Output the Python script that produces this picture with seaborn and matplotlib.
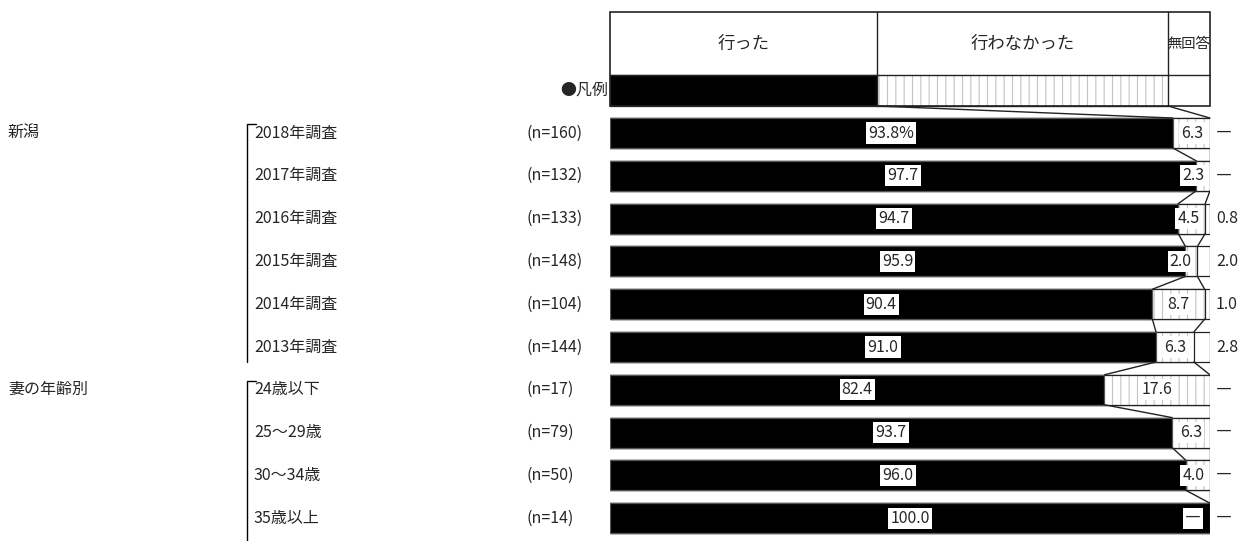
import numpy as np
import pandas as pd
import matplotlib
matplotlib.use("Agg")
import matplotlib.pyplot as plt
import matplotlib.transforms as mtransforms
from matplotlib.patches import Rectangle
import seaborn as sns

# -------------------------
# Data
# -------------------------
groups = ["新潟", "妻の年齢別"]
group_sizes = [6, 4]
categories = ["2018年調査", "2017年調査", "2016年調査", "2015年調査", "2014年調査",
              "2013年調査", "24歳以下", "25～29歳", "30～34歳", "35歳以上"]
n_counts = [160, 132, 133, 148, 104, 144, 17, 79, 50, 14]
went = [93.8, 97.7, 94.7, 95.9, 90.4, 91.0, 82.4, 93.7, 96.0, 100.0]
not_went = [6.3, 2.3, 4.5, 2.0, 8.7, 6.3, 17.6, 6.3, 4.0, 0.0]
no_answer = [0.0, 0.0, 0.8, 2.0, 1.0, 2.8, 0.0, 0.0, 0.0, 0.0]
legend_labels = ["行った", "行わなかった", "無回答"]

# -------------------------
# Setup
# -------------------------
sns.set_theme(style="white")
plt.rcParams["font.family"] = ["Noto Sans CJK JP", "DejaVu Sans"]
plt.rcParams["hatch.linewidth"] = 0.8

df = pd.DataFrame({"cat": categories, "went": went,
                   "not_went": not_went, "no_answer": no_answer})
df["cum1"] = df["went"]
df["cum2"] = np.minimum(df["went"] + df["not_went"], 100)
df.loc[df["no_answer"] == 0, "cum2"] = 100
df["cum3"] = 100.0

W, H = 1245, 541
fig = plt.figure(figsize=(W / 100, H / 100), dpi=100)
fig.patch.set_facecolor("white")
ax = fig.add_axes([610 / W, 0, 600 / W, 1])
ax.set_facecolor("none")

BAR_H = 0.70
FS = 11.5
EDGE = "#222222"

# full bar (無回答 white)
n0 = len(ax.patches)
sns.barplot(data=df, x="cum3", y="cat", orient="h", color="white",
            width=BAR_H, ax=ax)
for p in ax.patches[n0:]:
    p.set_facecolor("white")
    p.set_edgecolor(EDGE)
    p.set_linewidth(0.9)

# 行わなかった (hatched)
n0 = len(ax.patches)
sns.barplot(data=df, x="cum2", y="cat", orient="h", color="white",
            width=BAR_H, ax=ax)
for p in ax.patches[n0:]:
    p.set_facecolor("white")
    p.set_edgecolor("#c4c4c4")
    p.set_hatch("||")
    p.set_linewidth(0)
n0 = len(ax.patches)
sns.barplot(data=df, x="cum2", y="cat", orient="h", color="white",
            width=BAR_H, ax=ax)
for p in ax.patches[n0:]:
    p.set_facecolor("none")
    p.set_edgecolor(EDGE)
    p.set_linewidth(0.9)

# 行った (black)
n0 = len(ax.patches)
sns.barplot(data=df, x="cum1", y="cat", orient="h", color="black",
            width=BAR_H, ax=ax)
for p in ax.patches[n0:]:
    p.set_facecolor("black")
    p.set_edgecolor("#555555")
    p.set_linewidth(0.9)

ax.set_xlim(0, 100)
ax.set_ylim((H - 133) / 42.8, -133 / 42.8)
ax.axis("off")

# -------------------------
# Header / legend box
# -------------------------
hdr_top, hdr_mid, leg_bot = (12 - 133) / 42.8, (75 - 133) / 42.8, (106 - 133) / 42.8
b1, b2 = 44.5, 93.0
ax.add_patch(Rectangle((0, leg_bot), b1, hdr_mid - leg_bot, facecolor="black",
                       edgecolor=EDGE, lw=0.9, clip_on=False))
ax.add_patch(Rectangle((b1, leg_bot), b2 - b1, hdr_mid - leg_bot, facecolor="white",
                       edgecolor="#c4c4c4", hatch="||", lw=0, clip_on=False))
ax.add_patch(Rectangle((0, hdr_top), 100, leg_bot - hdr_top, facecolor="none",
                       edgecolor=EDGE, lw=1.2, clip_on=False))
for xv in [b1, b2]:
    ax.plot([xv, xv], [hdr_top, leg_bot], color=EDGE, lw=1.0, clip_on=False)
ax.plot([0, 100], [hdr_mid, hdr_mid], color=EDGE, lw=1.0, clip_on=False)
ax.plot([b1, b2], [leg_bot, leg_bot], color=EDGE, lw=1.0, clip_on=False)
hy = (44 - 133) / 42.8
for xc, lab, fs in zip([b1 / 2, (b1 + b2) / 2, (b2 + 100) / 2], legend_labels,
                       [12.5, 12.5, 10.3]):
    ax.text(xc, hy, lab, ha="center", va="center", fontsize=fs)
ax.text(-0.3, (hdr_mid + leg_bot) / 2, "●凡例", ha="right", va="center", fontsize=FS)

# -------------------------
# Connector lines
# -------------------------
half = BAR_H / 2
ax.plot([b1, df["cum1"][0]], [leg_bot, -half], color=EDGE, lw=1.0, clip_on=False)
ax.plot([b2, df["cum2"][0]], [leg_bot, -half], color=EDGE, lw=1.0, clip_on=False)
for i in range(len(df) - 1):
    for col in ["cum1", "cum2"]:
        ax.plot([df[col][i], df[col][i + 1]], [i + half, i + 1 - half],
                color=EDGE, lw=1.0)

# -------------------------
# Value labels
# -------------------------
box = dict(facecolor="white", edgecolor="none", pad=1.5)
for i, r in df.iterrows():
    lab = f"{r['went']:.1f}" + ("%" if i == 0 else "")
    ax.text(r["went"] / 2, i, lab, ha="center", va="center", fontsize=FS, bbox=box)
    seg_end = min(r["went"] + r["not_went"], 100)
    xc = min(r["went"] + r["not_went"] / 2, seg_end - 2.8)
    lab = f"{r['not_went']:.1f}" if r["not_went"] > 0 else "―"
    ax.text(xc, i, lab, ha="center", va="center", fontsize=FS, bbox=box)
    lab = f"{r['no_answer']:.1f}" if r["no_answer"] > 0 else "―"
    ax.text(101.0, i, lab, ha="left", va="center", fontsize=FS, clip_on=False)

# -------------------------
# Left side labels
# -------------------------
trans = mtransforms.blended_transform_factory(fig.transFigure, ax.transData)
for i, (cat, n) in enumerate(zip(categories, n_counts)):
    ax.text(254 / W, i, cat, ha="left", va="center", fontsize=FS, transform=trans)
    ax.text(527 / W, i, f"(n={n})", ha="left", va="center", fontsize=FS, transform=trans)

start = 0
for g, size in zip(groups, group_sizes):
    end = start + size - 1
    ax.text(8 / W, start, g, ha="left", va="center", fontsize=FS, transform=trans)
    top = start - 0.2
    bottom = end + 0.35 if end < len(categories) - 1 else end + 0.6
    ax.plot([256 / W, 247 / W, 247 / W], [top, top, bottom], color="black",
            lw=1.0, transform=trans, clip_on=False)
    start = end + 1

plt.savefig("out.png", dpi=100)
plt.close()
